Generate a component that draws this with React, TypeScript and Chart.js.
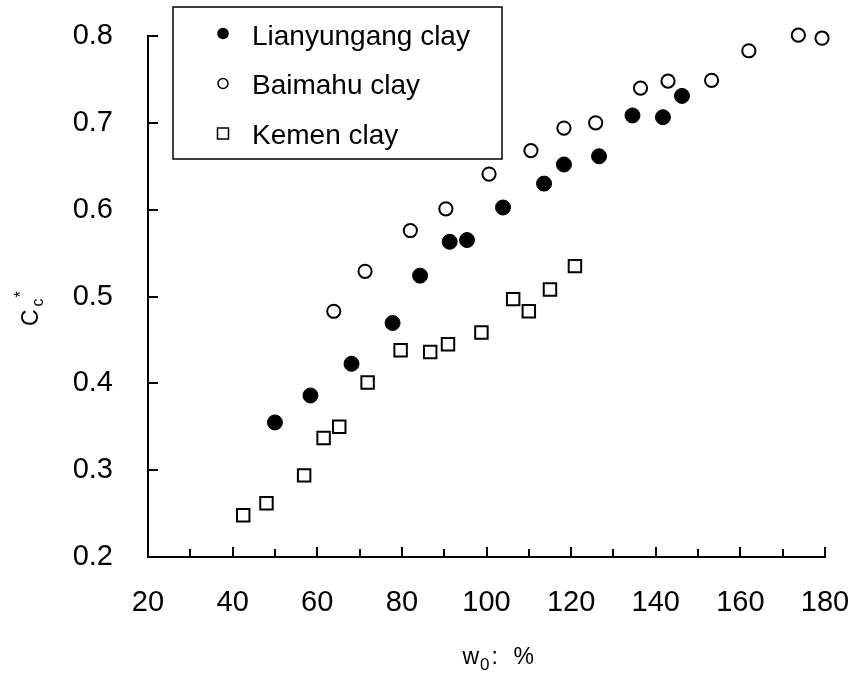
import React, { useEffect, useRef } from 'react';
import { Chart, registerables } from 'chart.js';

Chart.register(...registerables);

// ---- data ----
const xTickValues = [20, 40, 60, 80, 100, 120, 140, 160, 180];
const yTickValues = [0.2, 0.3, 0.4, 0.5, 0.6, 0.7, 0.8];

const seriesNames = ['Lianyungang clay', 'Baimahu clay', 'Kemen clay'];

const lianyungangW = [50.0, 58.4, 68.1, 77.8, 84.3, 91.3, 95.4, 103.9, 113.6, 118.3, 126.6, 134.5, 141.7, 146.2];
const lianyungangCc = [0.355, 0.386, 0.4225, 0.4695, 0.524, 0.563, 0.565, 0.6025, 0.63, 0.652, 0.6615, 0.7085, 0.7065, 0.731];

const baimahuW = [63.9, 71.3, 82.0, 90.4, 100.6, 110.5, 118.3, 125.8, 136.4, 142.9, 153.2, 162.0, 173.7, 179.3];
const baimahuCc = [0.483, 0.529, 0.576, 0.601, 0.641, 0.668, 0.694, 0.7, 0.74, 0.748, 0.749, 0.783, 0.801, 0.7975];

const kemenW = [42.5, 48.0, 56.9, 61.5, 65.2, 71.9, 79.7, 86.7, 90.9, 98.8, 106.3, 110.0, 115.0, 120.9];
const kemenCc = [0.248, 0.262, 0.294, 0.337, 0.35, 0.401, 0.438, 0.436, 0.445, 0.4585, 0.497, 0.483, 0.508, 0.535];

const FONT = '"Liberation Sans", Arial, Helvetica, sans-serif';

const pts = (xs: number[], ys: number[]) => xs.map((x, i) => ({ x, y: ys[i] }));

const zeroPad = (s: any) => {
  s.paddingTop = 0;
  s.paddingBottom = 0;
  s.paddingLeft = 0;
  s.paddingRight = 0;
};

const decorPlugin = {
  id: 'decor',
  afterDraw(chart: any) {
    const { ctx, chartArea: a } = chart;
    const xs = chart.scales.x;
    const ys = chart.scales.y;
    ctx.save();
    // inward tick marks
    ctx.strokeStyle = '#000';
    ctx.lineWidth = 2;
    ctx.beginPath();
    xs.ticks.forEach((t: any, i: number) => {
      const px = Math.round(xs.getPixelForValue(t.value));
      ctx.moveTo(px, a.bottom);
      ctx.lineTo(px, a.bottom - 10);
      if (i < xs.ticks.length - 1) {
        const mid = (t.value + xs.ticks[i + 1].value) / 2;
        const mx = Math.round(xs.getPixelForValue(mid));
        ctx.moveTo(mx, a.bottom);
        ctx.lineTo(mx, a.bottom - 8);
      }
    });
    ys.ticks.forEach((t: any) => {
      const py = Math.round(ys.getPixelForValue(t.value));
      ctx.moveTo(a.left, py);
      ctx.lineTo(a.left + 10, py);
    });
    ctx.stroke();

    // x-axis title: w0: %
    ctx.fillStyle = '#000';
    ctx.textAlign = 'left';
    ctx.textBaseline = 'alphabetic';
    const bigX = `23px ${FONT}`;
    const subX = `17px ${FONT}`;
    const startX = (a.left + a.right) / 2 - 24;
    const baseX = a.bottom + 107;
    ctx.font = bigX;
    const wW = ctx.measureText('w').width;
    ctx.fillText('w', startX, baseX);
    ctx.font = subX;
    const zW = ctx.measureText('0').width;
    ctx.fillText('0', startX + wW + 1, baseX + 6);
    ctx.font = bigX;
    ctx.fillText(':', startX + wW + zW + 3, baseX);
    ctx.fillText('%', startX + 51, baseX);

    // y-axis title: Cc*
    const bigY = `23px ${FONT}`;
    const smallY = `16px ${FONT}`;
    ctx.font = bigY;
    const cW = ctx.measureText('C').width;
    ctx.font = smallY;
    const sW = ctx.measureText('c').width;
    ctx.translate(a.left - 110.5, a.bottom - 231);
    ctx.rotate(-Math.PI / 2);
    ctx.font = bigY;
    ctx.fillText('C', 0, 0);
    ctx.font = smallY;
    ctx.fillText('c', cW + 3, 5);
    ctx.fillText('*', cW + sW + 4, -12);
    ctx.setTransform(1, 0, 0, 1, 0, 0);

    // legend box
    const lx = a.left + 25;
    const ly = 7;
    const lw = 329;
    const lh = 152;
    ctx.lineWidth = 1.5;
    ctx.strokeStyle = '#000';
    ctx.strokeRect(lx, ly, lw, lh);
    ctx.font = `28px ${FONT}`;
    ctx.textBaseline = 'alphabetic';
    chart.data.datasets.forEach((ds: any, i: number) => {
      const my = 33.5 + i * 50;
      const mx = lx + 50;
      ctx.beginPath();
      ctx.lineWidth = 1.5;
      if (ds.pointStyle === 'rect') {
        ctx.fillStyle = '#fff';
        ctx.rect(mx - 5.5, my - 5.5, 11, 11);
        ctx.fill();
        ctx.stroke();
      } else if (ds.backgroundColor === '#000') {
        ctx.arc(mx, my, 5.8, 0, Math.PI * 2);
        ctx.fillStyle = '#000';
        ctx.fill();
      } else {
        ctx.arc(mx, my, 5, 0, Math.PI * 2);
        ctx.fillStyle = '#fff';
        ctx.fill();
        ctx.stroke();
      }
      ctx.fillStyle = '#000';
      ctx.fillText(ds.label, lx + 79, 45 + i * 49.3);
    });
    ctx.restore();
  },
};

export default function App() {
  const ref = useRef<HTMLCanvasElement | null>(null);
  useEffect(() => {
    if (!ref.current) return;
    const chart = new Chart(ref.current, {
      type: 'scatter',
      data: {
        datasets: [
          {
            label: seriesNames[0],
            data: pts(lianyungangW, lianyungangCc),
            pointStyle: 'circle',
            pointRadius: 7.5,
            backgroundColor: '#000',
            borderColor: '#000',
            borderWidth: 1,
            clip: false,
          },
          {
            label: seriesNames[1],
            data: pts(baimahuW, baimahuCc),
            pointStyle: 'circle',
            pointRadius: 6.6,
            backgroundColor: '#fff',
            borderColor: '#000',
            borderWidth: 2,
            clip: false,
          },
          {
            label: seriesNames[2],
            data: pts(kemenW, kemenCc),
            pointStyle: 'rect',
            pointRadius: 8.8,
            backgroundColor: '#fff',
            borderColor: '#000',
            borderWidth: 2,
            clip: false,
          },
        ] as any,
      },
      options: {
        responsive: false,
        animation: false,
        devicePixelRatio: 1,
        layout: { padding: { left: 0, top: 36, right: 35, bottom: 0 } },
        plugins: {
          legend: { display: false },
          tooltip: { enabled: false },
          title: { display: false },
        },
        scales: {
          x: {
            type: 'linear',
            min: xTickValues[0],
            max: xTickValues[xTickValues.length - 1],
            afterFit: (s: any) => {
              s.height = 120;
              zeroPad(s);
            },
            afterBuildTicks: (s: any) => {
              s.ticks = xTickValues.map((v) => ({ value: v }));
            },
            grid: { display: false, drawTicks: false },
            border: { display: true, color: '#000', width: 2 },
            ticks: {
              color: '#000',
              font: { family: FONT, size: 29 },
              padding: 29,
              maxRotation: 0,
              autoSkip: false,
              callback: (v: any) => String(v),
            },
          },
          y: {
            type: 'linear',
            min: yTickValues[0],
            max: yTickValues[yTickValues.length - 1],
            afterFit: (s: any) => {
              s.width = 148;
              zeroPad(s);
            },
            afterBuildTicks: (s: any) => {
              s.ticks = yTickValues.map((v) => ({ value: v }));
            },
            grid: { display: false, drawTicks: false },
            border: { display: true, color: '#000', width: 2 },
            ticks: {
              color: '#000',
              font: { family: FONT, size: 29 },
              padding: 35,
              autoSkip: false,
              callback: (v: any) => Number(v).toFixed(1),
            },
          },
        },
      },
      plugins: [decorPlugin],
    });
    return () => chart.destroy();
  }, []);
  return (
    <div style={{ position: 'fixed', left: 0, top: 0, width: 860, height: 677, background: '#fff' }}>
      <canvas ref={ref} width={860} height={677} />
    </div>
  );
}
